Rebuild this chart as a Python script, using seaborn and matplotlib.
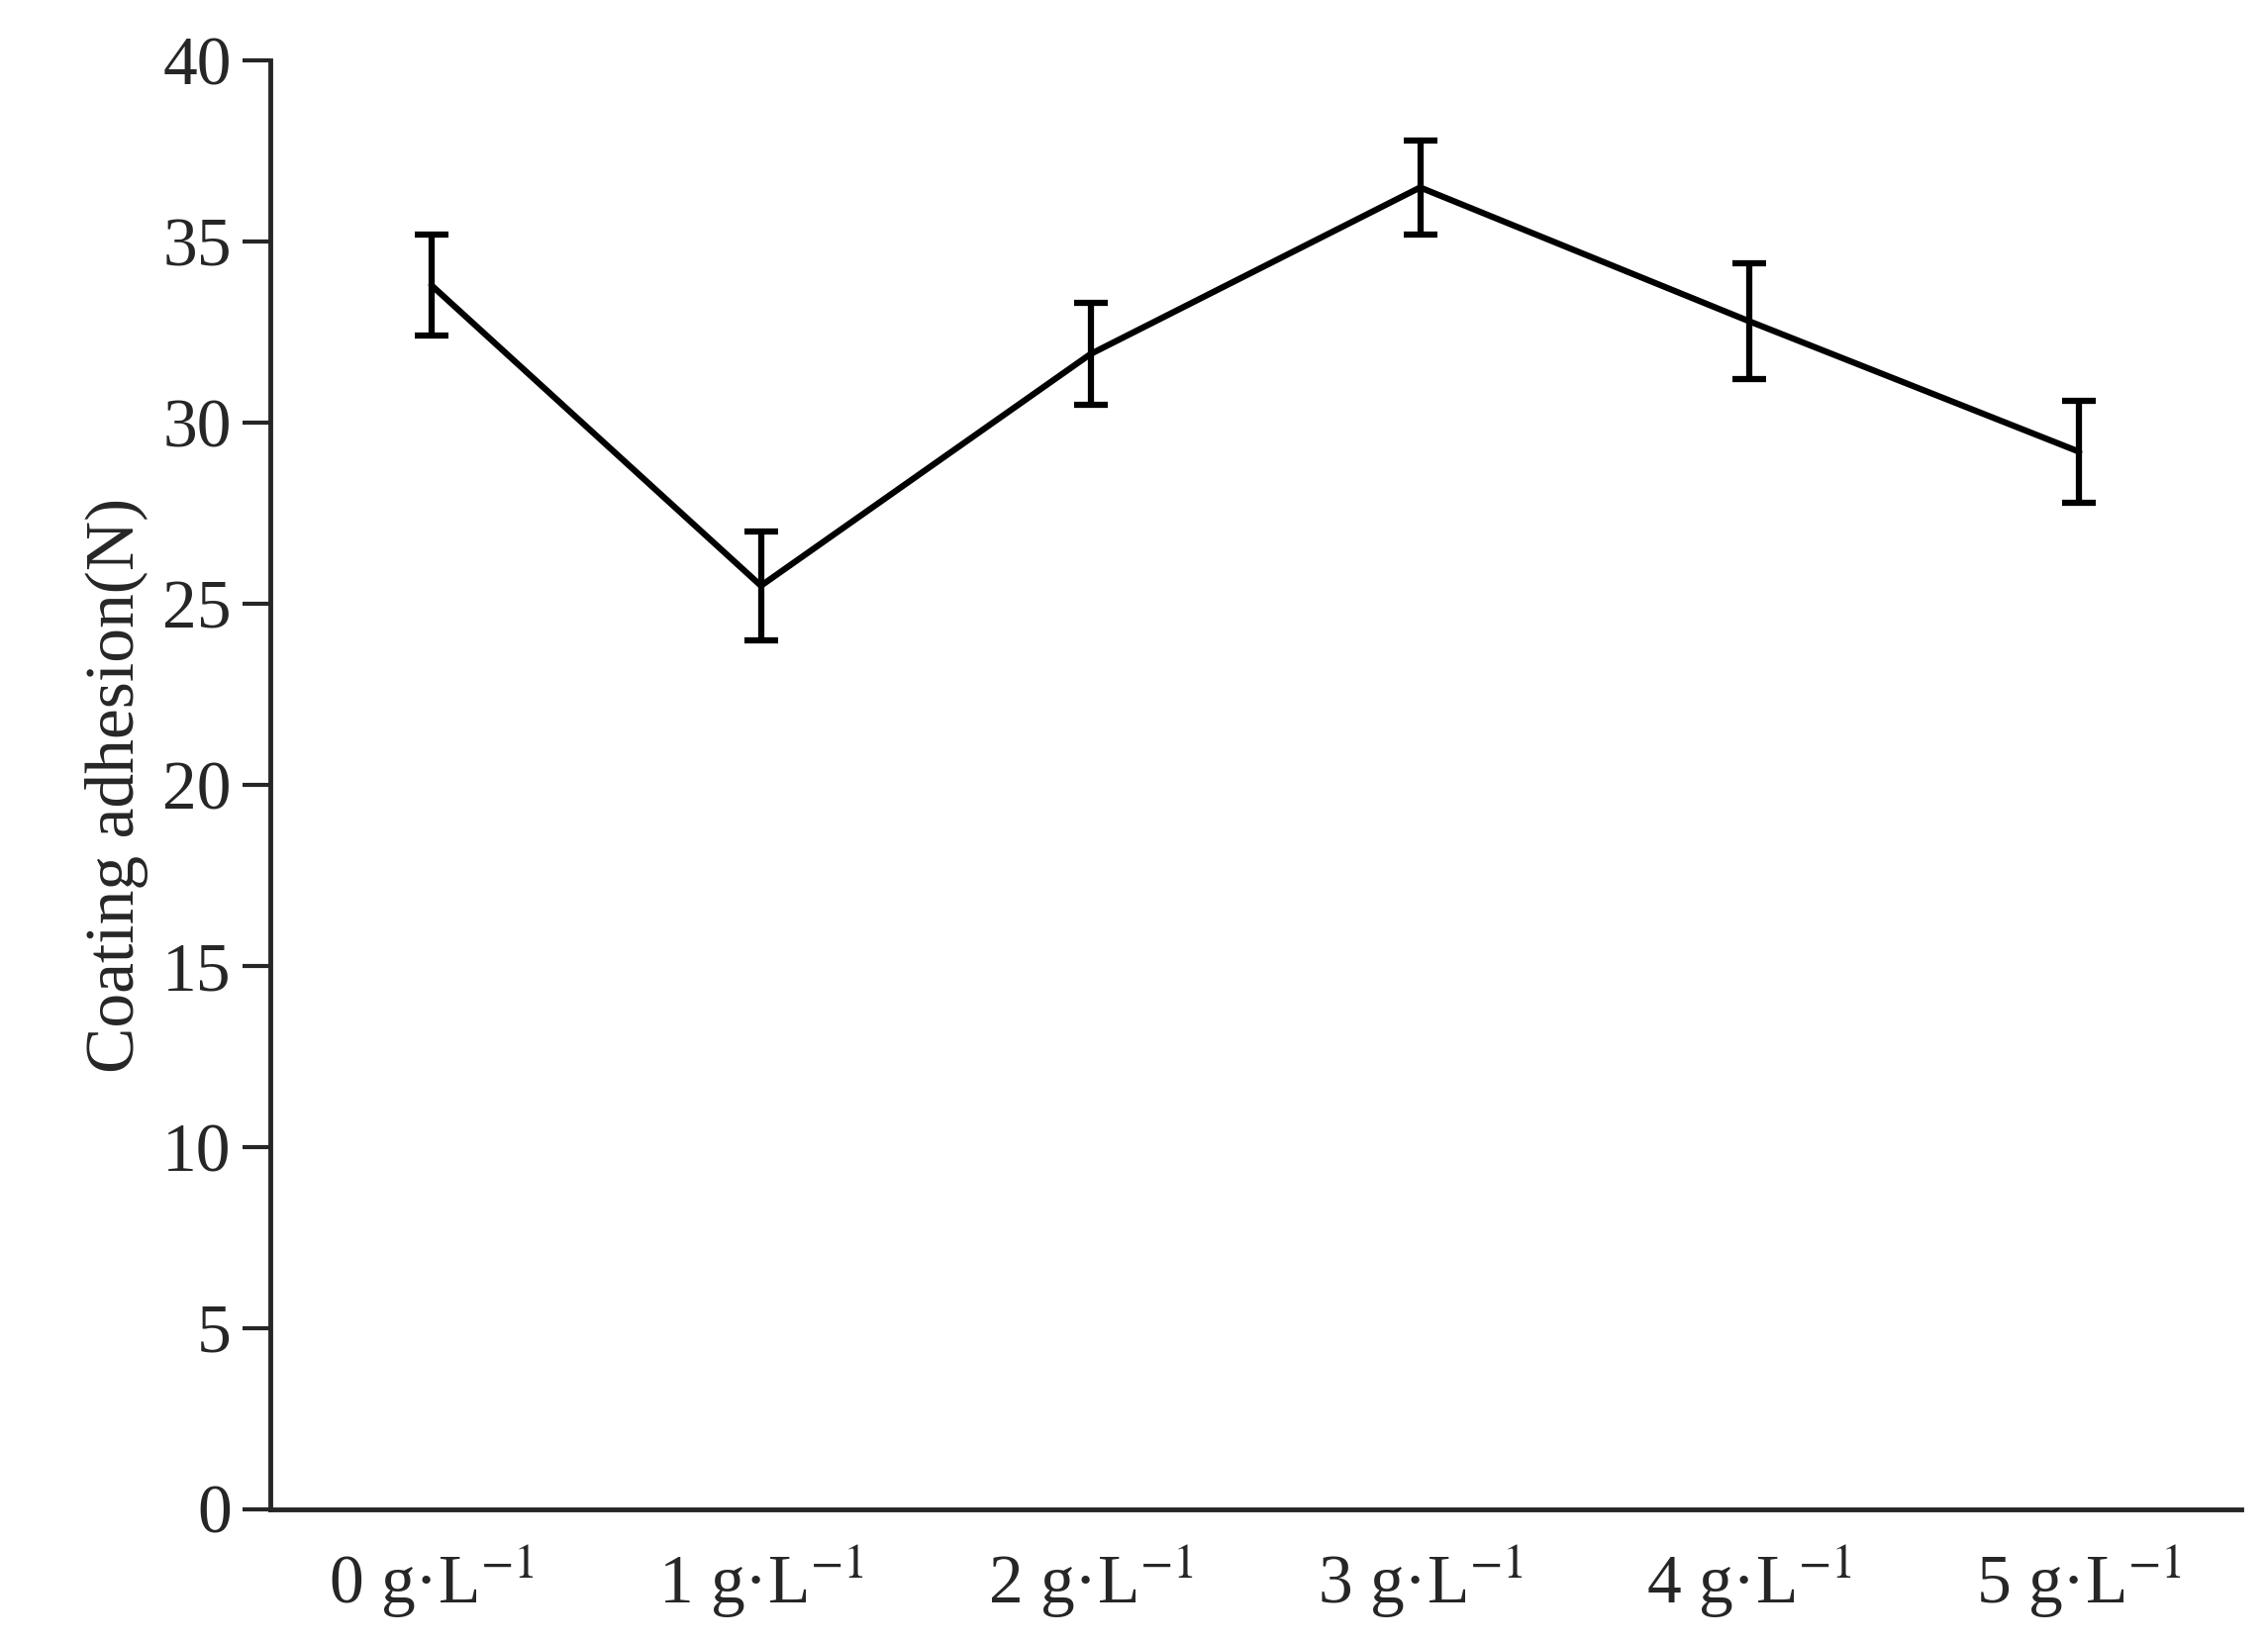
import matplotlib
matplotlib.use("Agg")
import matplotlib.pyplot as plt
import seaborn as sns
import pandas as pd

categories = ["0 g·L$^{-1}$", "1 g·L$^{-1}$", "2 g·L$^{-1}$", "3 g·L$^{-1}$", "4 g·L$^{-1}$", "5 g·L$^{-1}$"]
values = [33.8, 25.5, 31.9, 36.5, 32.8, 29.2]
errors = [1.4, 1.5, 1.4, 1.3, 1.6, 1.4]

sns.set_style("ticks")
plt.rcParams['font.family'] = ['Liberation Serif', 'DejaVu Serif']
plt.rcParams['mathtext.fontset'] = 'stix'

fig = plt.figure(figsize=(22.91, 16.59), dpi=100)
ax = fig.add_axes([0.119, 0.081, 0.869, 0.882])
x = list(range(len(values)))
df = pd.DataFrame({"x": x, "y": values})
sns.lineplot(data=df, x="x", y="y", color="black", linewidth=4.5, ax=ax)
ax.errorbar(x, values, yerr=errors, fmt="none", ecolor="black", elinewidth=4.5, capsize=12, capthick=4.5)

ax.set_xlim(-0.49, 5.49)
ax.set_ylim(0, 40)
ax.set_yticks(range(0, 41, 5))
ax.set_xticks(x)
ax.set_xticklabels(categories)
ax.set_xlabel("")
ax.set_ylabel("Coating adhesion(N)", fontsize=50, labelpad=10)
ax.tick_params(axis="y", labelsize=50, length=20, width=3, direction="out", pad=8)
ax.tick_params(axis="x", labelsize=50, length=0, pad=25)
for s in ["top", "right"]:
    ax.spines[s].set_visible(False)
for s in ["left", "bottom"]:
    ax.spines[s].set_linewidth(3.5)
fig.savefig("out.png", dpi=100)
